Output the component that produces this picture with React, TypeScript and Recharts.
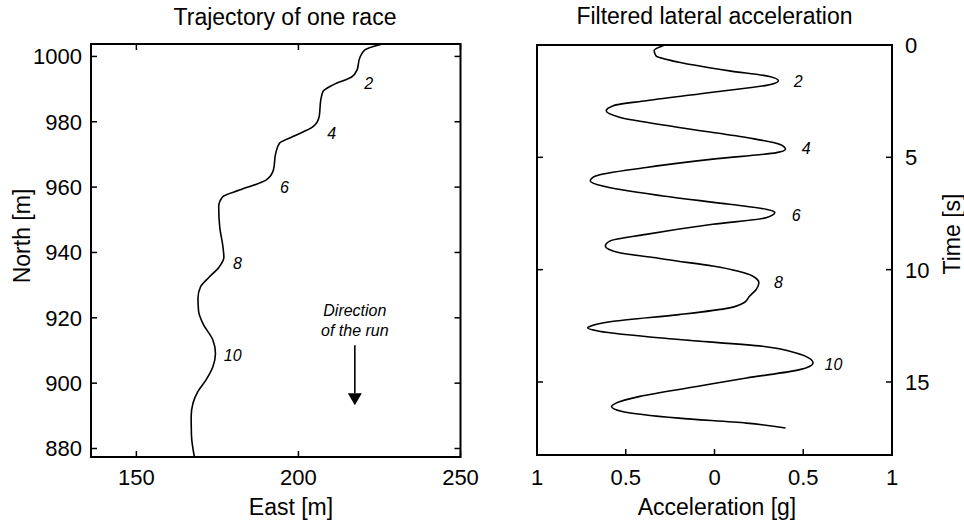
import React from 'react';
import { ScatterChart, Scatter, XAxis, YAxis, ReferenceArea } from 'recharts';

const FONT = '"Liberation Sans", Arial, Helvetica, sans-serif';

// ---- Left panel: trajectory (East, North) ----
const trajEast = [226.0, 220.5, 218.9, 218.1, 216.4, 210.7, 207.6, 206.9, 206.4, 204.5, 198.3, 194.2, 193.0, 192.3, 190.1, 181.8, 176.7, 175.4, 175.7, 176.7, 177.0, 175.5, 172.5, 169.8, 169.0, 169.2, 170.5, 173.6, 174.4, 173.6, 171.5, 169.0, 167.5, 166.9, 167.0, 167.9];
const trajNorth = [1003.8, 1002.0, 999.5, 995.9, 993.7, 991.3, 989.3, 986.7, 981.6, 978.5, 975.5, 973.5, 970.4, 965.3, 962.2, 959.1, 957.1, 954.0, 947.9, 941.8, 938.5, 935.5, 932.5, 929.5, 926.0, 922.0, 918.3, 913.2, 909.1, 905.0, 901.0, 897.5, 894.0, 889.7, 884.0, 877.4];
const trajLabelText = ['2', '4', '6', '8', '10'];
const trajLabelEast = [221.7, 210.3, 195.7, 181.2, 179.7];
const trajLabelNorth = [991.9, 976.5, 960.1, 936.8, 908.6];
const arrowEast = [217.4, 217.4];
const arrowNorth = [911.6, 896.9];
const eastTicks = [150, 200, 250];
const northTicks = [880, 900, 920, 940, 960, 980, 1000];
const eastDomain = [136, 250];
const northDomain = [877.4, 1003.8];

// ---- Right panel: acceleration vs time ----
const accel = [-0.28, -0.34, -0.33, -0.2, 0.085, 0.31, 0.36, 0.31, -0.01, -0.385, -0.57, -0.61, -0.535, -0.2, 0.18, 0.366, 0.4, 0.35, -0.01, -0.385, -0.67, -0.7, -0.63, -0.29, 0.085, 0.29, 0.34, 0.29, -0.01, -0.385, -0.59, -0.615, -0.535, -0.33, -0.27, -0.01, 0.216, 0.25, 0.235, 0.197, 0.17, 0.085, -0.2, -0.57, -0.7, -0.715, -0.65, -0.2, 0.27, 0.46, 0.555, 0.48, 0.18, -0.1, -0.42, -0.555, -0.58, -0.52, -0.2, 0.18, 0.4];
const time = [0, 0.25, 0.48, 0.77, 1.15, 1.4, 1.59, 1.77, 2.1, 2.48, 2.7, 2.93, 3.22, 3.67, 4.12, 4.42, 4.64, 4.79, 5.08, 5.45, 5.83, 6.05, 6.28, 6.72, 7.09, 7.31, 7.46, 7.69, 7.98, 8.43, 8.73, 8.95, 9.25, 9.47, 9.55, 9.84, 10.29, 10.58, 10.88, 11.18, 11.45, 11.7, 12.0, 12.3, 12.52, 12.6, 12.74, 13.11, 13.41, 13.71, 14.15, 14.45, 14.82, 15.2, 15.64, 15.94, 16.09, 16.31, 16.61, 16.83, 17.05];
const accLabelText = ['2', '4', '6', '8', '10'];
const accLabelA = [0.472, 0.517, 0.46, 0.36, 0.67];
const accLabelT = [1.62, 4.61, 7.58, 10.55, 14.2];
const accTicks = [-1, -0.5, 0, 0.5, 1];
const timeTicks = [0, 5, 10, 15];
const accDomain = [-1, 1];
const timeDomain = [0, 18.25];

const trajData = trajEast.map((x, i) => ({ x, y: trajNorth[i] }));
const trajLabels = trajLabelText.map((t, i) => ({ x: trajLabelEast[i], y: trajLabelNorth[i], label: t }));
const arrowData = arrowEast.map((x, i) => ({ x, y: arrowNorth[i], head: i === 1 }));
const accData = accel.map((x, i) => ({ x, y: time[i] }));
const accLabels = accLabelText.map((t, i) => ({ x: accLabelA[i], y: accLabelT[i], label: t }));

// layout
const L = { left: 91, right: 460.5, top: 44, bottom: 457 };
const R = { left: 55, right: 410, top: 45, bottom: 455 }; // within right chart (offset 482)
const TICK = 6;

const Empty = () => <g />;

const LabelShape = (p: any) => (
  <text x={p.cx} y={p.cy} dy="0.36em" textAnchor="middle" fontFamily={FONT} fontStyle="italic" fontSize={16} fill="#000">
    {p.payload.label}
  </text>
);

const ArrowShape = (p: any) => {
  if (p.payload.head) {
    return <polygon points={`${p.cx - 7},${p.cy} ${p.cx + 7},${p.cy} ${p.cx},${p.cy + 12}`} fill="#000" />;
  }
  return (
    <g fontFamily={FONT} fontStyle="italic" fontSize={16} fill="#000">
      <text x={p.cx} y={p.cy - 29} textAnchor="middle">Direction</text>
      <text x={p.cx} y={p.cy - 9} textAnchor="middle">of the run</text>
    </g>
  );
};

const LeftXTick = (p: any) => (
  <g>
    <line x1={p.x} x2={p.x} y1={L.bottom} y2={L.bottom - TICK} stroke="#000" strokeWidth={1.5} />
    <line x1={p.x} x2={p.x} y1={L.top} y2={L.top + TICK} stroke="#000" strokeWidth={1.5} />
    <text x={p.x} y={485} textAnchor="middle" fontFamily={FONT} fontSize={22} fill="#000">{p.payload.value}</text>
  </g>
);

const LeftYTick = (p: any) => (
  <g>
    <line x1={L.left} x2={L.left + TICK} y1={p.y} y2={p.y} stroke="#000" strokeWidth={1.5} />
    <line x1={L.right} x2={L.right - TICK} y1={p.y} y2={p.y} stroke="#000" strokeWidth={1.5} />
    <text x={82} y={p.y} dy="0.36em" textAnchor="end" fontFamily={FONT} fontSize={22} fill="#000">{p.payload.value}</text>
  </g>
);

const RightXTick = (p: any) => (
  <g>
    <line x1={p.x} x2={p.x} y1={R.bottom} y2={R.bottom - TICK} stroke="#000" strokeWidth={1.5} />
    <text x={p.x} y={485} textAnchor="middle" fontFamily={FONT} fontSize={22} fill="#000">{Math.abs(p.payload.value)}</text>
  </g>
);

const RightYTick = (p: any) => (
  <g>
    <line x1={R.left} x2={R.left + TICK} y1={p.y} y2={p.y} stroke="#000" strokeWidth={1.5} />
    <line x1={R.right} x2={R.right - TICK} y1={p.y} y2={p.y} stroke="#000" strokeWidth={1.5} />
    <text x={423} y={p.y} dy="0.36em" textAnchor="start" fontFamily={FONT} fontSize={22} fill="#000">{p.payload.value}</text>
  </g>
);

export default function App() {
  return (
    <div style={{ position: 'absolute', left: 0, top: 0, width: 964, height: 524, background: '#fff' }}>
      <div style={{ position: 'absolute', left: 0, top: 0 }}>
        <ScatterChart width={482} height={524} margin={{ top: L.top, right: 482 - L.right, bottom: 0, left: 0 }}>
          <XAxis type="number" dataKey="x" domain={eastDomain} ticks={eastTicks} interval={0} allowDataOverflow height={67} axisLine={false} tickLine={false} tick={LeftXTick} />
          <YAxis type="number" dataKey="y" domain={northDomain} ticks={northTicks} interval={0} allowDataOverflow width={91} axisLine={false} tickLine={false} tick={LeftYTick} />
          <ReferenceArea x1={eastDomain[0]} x2={eastDomain[1]} y1={northDomain[0]} y2={northDomain[1]} fill="none" fillOpacity={0} stroke="#000" strokeWidth={2} ifOverflow="visible" />
          <Scatter data={trajData} line={{ stroke: '#000', strokeWidth: 1.6 }} lineJointType="monotoneY" shape={Empty} isAnimationActive={false} />
          <Scatter data={trajLabels} shape={LabelShape} isAnimationActive={false} />
          <Scatter data={arrowData} line={{ stroke: '#000', strokeWidth: 1.6 }} shape={ArrowShape} isAnimationActive={false} />
        </ScatterChart>
      </div>
      <div style={{ position: 'absolute', left: 482, top: 0 }}>
        <ScatterChart width={482} height={524} margin={{ top: R.top, right: 0, bottom: 0, left: R.left }}>
          <XAxis type="number" dataKey="x" domain={accDomain} ticks={accTicks} interval={0} allowDataOverflow height={524 - R.bottom} axisLine={false} tickLine={false} tick={RightXTick} />
          <YAxis type="number" dataKey="y" orientation="right" reversed domain={timeDomain} ticks={timeTicks} interval={0} allowDataOverflow width={482 - R.right} axisLine={false} tickLine={false} tick={RightYTick} />
          <ReferenceArea x1={accDomain[0]} x2={accDomain[1]} y1={timeDomain[0]} y2={timeDomain[1]} fill="none" fillOpacity={0} stroke="#000" strokeWidth={2} ifOverflow="visible" />
          <Scatter data={accData} line={{ stroke: '#000', strokeWidth: 1.6 }} lineJointType="monotoneY" shape={Empty} isAnimationActive={false} />
          <Scatter data={accLabels} shape={LabelShape} isAnimationActive={false} />
        </ScatterChart>
      </div>
      <svg width={964} height={524} style={{ position: 'absolute', left: 0, top: 0, pointerEvents: 'none' }}>
        <g fontFamily={FONT} fontSize={23} fill="#000">
          <text x={285} y={25} textAnchor="middle">Trajectory of one race</text>
          <text x={714.5} y={24} textAnchor="middle">Filtered lateral acceleration</text>
          <text x={291} y={515} textAnchor="middle">East [m]</text>
          <text x={717} y={515} textAnchor="middle">Acceleration [g]</text>
          <text transform="translate(22,236) rotate(-90)" dy="0.36em" textAnchor="middle">North [m]</text>
          <text transform="translate(952,234) rotate(-90)" dy="0.36em" textAnchor="middle">Time [s]</text>
        </g>
      </svg>
    </div>
  );
}
